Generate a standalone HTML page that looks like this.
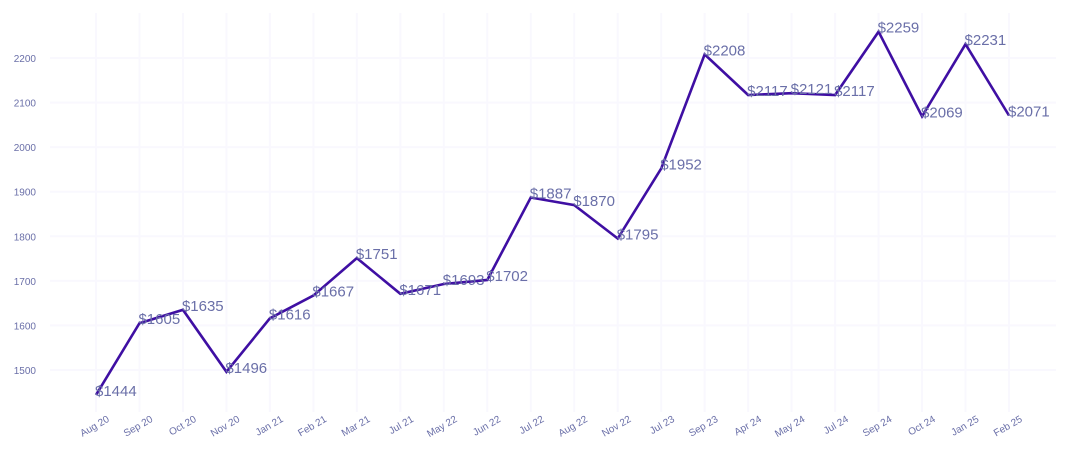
<!DOCTYPE html>
<html><head><meta charset="utf-8"><style>
body{margin:0;background:#fff;}
svg text{font-family:"Liberation Sans",sans-serif;fill:#6a6fa8;}
</style></head><body>
<svg id="chart" width="1070" height="465" xmlns="http://www.w3.org/2000/svg">
<g id="grid"></g>
<g id="yaxis"></g>
<g id="xaxis"></g>
<path id="line" fill="none" stroke="#3f0fa3" stroke-width="2.6" stroke-linejoin="miter"></path>
<g id="labels"></g>
</svg>
<script>
const categories=["Aug 20","Sep 20","Oct 20","Nov 20","Jan 21","Feb 21","Mar 21","Jul 21","May 22","Jun 22","Jul 22","Aug 22","Nov 22","Jul 23","Sep 23","Apr 24","May 24","Jul 24","Sep 24","Oct 24","Jan 25","Feb 25"];
const values=[1444,1605,1635,1496,1616,1667,1751,1671,1693,1702,1887,1870,1795,1952,2208,2117,2121,2117,2259,2069,2231,2071];
const yTicks=[1500,1600,1700,1800,1900,2000,2100,2200];
const NS="http://www.w3.org/2000/svg";
function xs(i){return 96+i*(1009-96)/(categories.length-1);}
function ys(v){return 370-(v-1500)*(370-58)/700;}
function mk(tag,attrs,parent){const e=document.createElementNS(NS,tag);for(const k in attrs)e.setAttribute(k,attrs[k]);parent.appendChild(e);return e;}
const grid=document.getElementById('grid'),ya=document.getElementById('yaxis'),xa=document.getElementById('xaxis'),lb=document.getElementById('labels');
yTicks.forEach(t=>{
  const l=mk('line',{x1:50,x2:1056,y1:ys(t),y2:ys(t),stroke:'#f9f8fe','stroke-width':2},grid);
  
  
  const tx=mk('text',{x:36,y:ys(t)+4,'text-anchor':'end','font-size':10},ya);
  tx.textContent=t;
  
  
});
categories.forEach((c,i)=>{
  const x=xs(i);
  const l=mk('line',{x1:x,x2:x,y1:13,y2:412,stroke:'#f9f8fe','stroke-width':2},grid);
  
  
  const tx=mk('text',{x:x+14,y:421,'text-anchor':'end','font-size':10,transform:`rotate(-30 ${x+14} 421)`},xa);
  tx.textContent=c;
  
  
});
document.getElementById('line').setAttribute('d',values.map((v,i)=>(i?'L':'M')+xs(i)+' '+ys(v)).join(''));
values.forEach((v,i)=>{
  const tx=mk('text',{x:xs(i)-1,y:ys(v)+1,'font-size':15},lb);
  tx.textContent='$'+v;
  
  
});
</script>
</body></html>
